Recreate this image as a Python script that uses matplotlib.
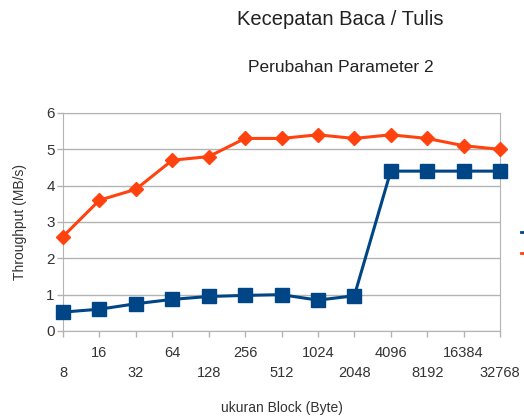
import matplotlib as mpl
mpl.use('Agg')
import matplotlib.pyplot as plt
from matplotlib.lines import Line2D

# data
block_sizes = ['8', '16', '32', '64', '128', '256', '512', '1024', '2048',
               '4096', '8192', '16384', '32768']
seri_biru = [0.52, 0.60, 0.75, 0.87, 0.95, 0.98, 1.00, 0.85, 0.97,
             4.40, 4.40, 4.40, 4.40]
seri_oranye = [2.60, 3.60, 3.90, 4.70, 4.80, 5.30, 5.30, 5.40, 5.30,
               5.40, 5.30, 5.10, 5.00]
y_ticks = [0, 1, 2, 3, 4, 5, 6]

plt.rcParams['font.family'] = ['Liberation Sans', 'DejaVu Sans']

fig = plt.figure(figsize=(5.24, 4.16), dpi=100)
ax = fig.add_axes([63/524, 1-331/416, 437/524, 218/416])

biru = '#004586'
oranye = '#ff420e'
abu = '#b3b3b3'

x = list(range(len(block_sizes)))
ax.plot(x, seri_biru, color=biru, lw=2.2, marker='s', markersize=9.5,
        clip_on=False, zorder=3)
ax.plot(x, seri_oranye, color=oranye, lw=2.2, marker='D', markersize=7,
        clip_on=False, zorder=3)

ax.set_xlim(0, len(block_sizes) - 1)
ax.set_ylim(0, 6)
ax.set_yticks(y_ticks)
ax.set_yticklabels([str(v) for v in y_ticks], fontsize=11, color='#333333')
ax.set_xticks(x)
ax.set_xticklabels(block_sizes, fontsize=10.5, color='#333333')

ax.grid(axis='y', color=abu, lw=1)
ax.set_axisbelow(True)
for s in ax.spines.values():
    s.set_color(abu)
ax.tick_params(axis='both', color=abu, length=4, width=1)
ax.tick_params(axis='y', pad=2)

# two rows of x labels
for i, t in enumerate(ax.xaxis.get_major_ticks()):
    if i % 2 == 0:
        t.set_pad(21)
    else:
        t.set_pad(7)

ax.set_ylabel('Throughput (MB/s)', fontsize=10, color='#333333', labelpad=14)
ax.set_xlabel('ukuran Block (Byte)', fontsize=10, color='#333333', labelpad=15)

fig.text(0.649, 0.952, 'Kecepatan Baca / Tulis', fontsize=14.5,
         ha='center', va='center', color='#222222')
fig.text(0.651, 0.837, 'Perubahan Parameter 2', fontsize=12.5,
         ha='center', va='center', color='#222222')

# legend (cut off at the right edge)
fig.add_artist(Line2D([521/524, 1.0], [1-232/416, 1-232/416], color=biru, lw=2))
fig.add_artist(Line2D([521/524, 1.0], [1-253/416, 1-253/416], color=oranye, lw=2))

plt.savefig('out.png', dpi=100)
